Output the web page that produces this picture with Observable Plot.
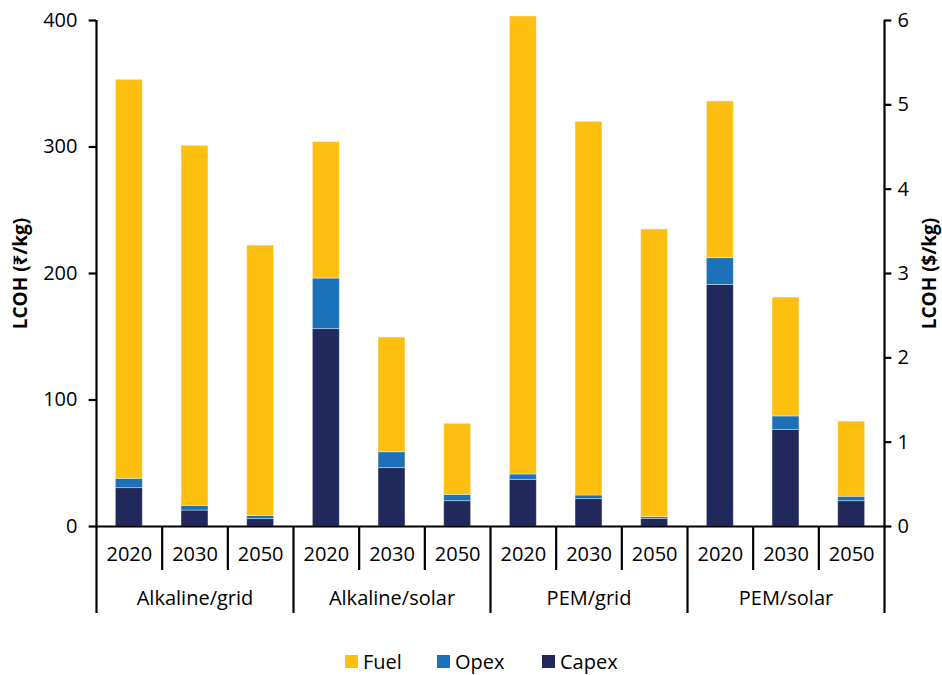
<!DOCTYPE html>
<html>
<head>
<meta charset="utf-8">
<script src="https://cdn.jsdelivr.net/npm/d3@7"></script>
<script src="https://cdn.jsdelivr.net/npm/@observablehq/plot@0.6"></script>
<style>
  html, body { margin: 0; padding: 0; background: #fff; overflow: hidden; }
  body { font-family: "Open Sans", "Noto Sans", "DejaVu Sans", sans-serif; color: #000; }
  #legend { position: relative; height: 28px; margin-top: 12px; font-size: 20px; }
  .item { position: absolute; top: 0; display: flex; align-items: center; height: 28px; }
  .sw { width: 13px; height: 13px; margin-right: 5px; }
</style>
</head>
<body>
<div id="chart"></div>
<div id="legend"></div>
<script>
// ---- data ----
const groups = ["Alkaline/grid", "Alkaline/solar", "PEM/grid", "PEM/solar"];
const years = ["2020", "2030", "2050"];
const capex = [30.3, 12.6, 5.8, 156.0, 46.1, 20.0, 36.9, 21.6, 6.1, 191.0, 76.4, 20.0];
const opex  = [7.4, 3.7, 2.4, 40.0, 12.6, 5.0, 4.2, 2.9, 1.3, 21.1, 10.6, 3.5];
const fuel  = [315.4, 284.6, 213.9, 107.8, 90.7, 56.2, 362.1, 295.4, 227.4, 123.9, 94.0, 59.5];
const inrTicks = [0, 100, 200, 300, 400];
const usdTicks = [0, 1, 2, 3, 4, 5, 6];
const inrPerUsdAxis = 400 / 6; // right axis 0–6 $/kg aligned with left 0–400 ₹/kg
const parts = ["Capex", "Opex", "Fuel"];
const partColors = ["#21295C", "#1C71B8", "#FDC010"];
const legendOrder = ["Fuel", "Opex", "Capex"];

// ---- derived tables ----
const cells = [];
groups.forEach((g, gi) => years.forEach((yr, yi) => cells.push({i: gi * 3 + yi, group: g, year: yr})));
const bars = [];
cells.forEach(c => {
  let base = 0;
  [capex[c.i], opex[c.i], fuel[c.i]].forEach((v, k) => {
    bars.push({i: c.i, part: parts[k], y1: base, y2: base + v});
    base += v;
  });
});
const n = cells.length;
const yearSeps = d3.range(1, n).filter(k => k % 3 !== 0);
const groupSeps = d3.range(0, n + 1, 3);

const FONT = '"Open Sans", "Noto Sans", "DejaVu Sans", sans-serif';
const barHalf = 0.205;       // bar width as fraction of a category cell (half)
const tickLen = 0.112;       // tick length in category units
const yearSepEnd = -34.8;    // extent of year separators below the baseline (value units)
const groupSepEnd = -68.8;
const yearLabelY = -22;
const groupLabelY = -57;

const chart = Plot.plot({
  width: 942,
  height: 635,
  marginLeft: 96,
  marginRight: 58,
  marginTop: 20,
  marginBottom: 109,
  x: {domain: [0, n], axis: null},
  y: {domain: [0, 400], axis: null},
  color: {domain: parts, range: partColors},
  style: {fontFamily: FONT, fontSize: "20px", background: "#fff", color: "#000", overflow: "visible"},
  marks: [
    Plot.rect(bars, {
      x1: d => d.i + 0.5 - barHalf,
      x2: d => d.i + 0.5 + barHalf,
      y1: "y1", y2: "y2",
      fill: "part",
      stroke: "#ffffff", strokeOpacity: 0.45, strokeWidth: 0.8
    }),
    // baseline
    Plot.ruleY([0], {x1: () => 0, x2: () => n, stroke: "#000", strokeWidth: 2.2}),
    // left & right axis lines (continuing down as outer group separators)
    Plot.ruleX([0, n], {y1: () => groupSepEnd, y2: () => 400, stroke: "#000", strokeWidth: 2.2}),
    // inner group separators
    Plot.ruleX(groupSeps.filter(k => k > 0 && k < n), {y1: () => groupSepEnd, y2: () => 0, stroke: "#000", strokeWidth: 2.2}),
    // year separators
    Plot.ruleX(yearSeps, {y1: () => yearSepEnd, y2: () => 0, stroke: "#000", strokeWidth: 2.2}),
    // left ticks + labels
    Plot.ruleY(inrTicks, {y: d => d, x1: () => -tickLen, x2: () => 0, stroke: "#000", strokeWidth: 2.2}),
    Plot.text(inrTicks, {y: d => d, x: () => 0, dx: -19, text: d => String(d), textAnchor: "end", fontSize: 20, fill: "#000"}),
    // right ticks + labels
    Plot.ruleY(usdTicks, {y: d => d * inrPerUsdAxis, x1: () => n, x2: () => n + tickLen, stroke: "#000", strokeWidth: 2.2}),
    Plot.text(usdTicks, {y: d => d * inrPerUsdAxis, x: () => n, dx: 13, text: d => String(d), textAnchor: "start", fontSize: 20, fill: "#000"}),
    // category labels
    Plot.text(cells, {x: d => d.i + 0.5, y: () => yearLabelY, text: "year", fontSize: 20, fill: "#000"}),
    Plot.text(groups, {x: (d, k) => k * 3 + 1.5, y: () => groupLabelY, text: d => d, fontSize: 20, fill: "#000"}),
    // axis titles
    Plot.text(["LCOH (₹/kg)"], {x: () => 0, y: () => 200, dx: -76, rotate: -90, text: d => d, fontSize: 19, fontWeight: "bold", fill: "#000"}),
    Plot.text(["LCOH ($/kg)"], {x: () => n, y: () => 200, dx: 45, rotate: -90, text: d => d, fontSize: 19, fontWeight: "bold", fill: "#000"})
  ]
});
document.getElementById("chart").appendChild(chart);

// legend
const legendX = {Fuel: 345, Opex: 437, Capex: 542};
const leg = document.getElementById("legend");
legendOrder.forEach(p => {
  const it = document.createElement("div");
  it.className = "item";
  it.style.left = legendX[p] + "px";
  const sw = document.createElement("span");
  sw.className = "sw";
  sw.style.background = partColors[parts.indexOf(p)];
  const tx = document.createElement("span");
  tx.textContent = p;
  it.appendChild(sw); it.appendChild(tx);
  leg.appendChild(it);
});
</script>
</body>
</html>
